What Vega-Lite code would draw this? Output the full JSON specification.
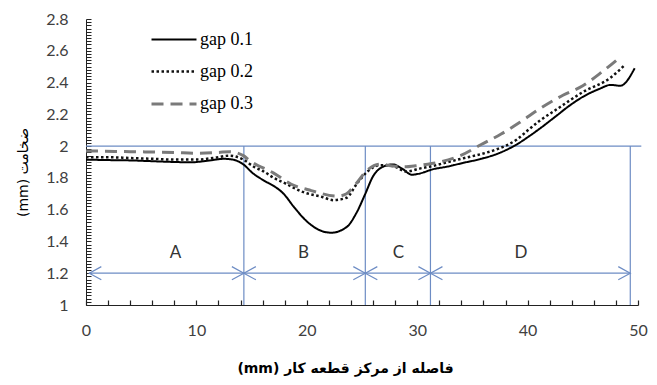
{
  "$schema": "https://vega.github.io/schema/vega-lite/v6.json",
  "width": 552,
  "height": 286,
  "autosize": {"type": "none"},
  "padding": {"left": 86, "top": 19, "right": 19, "bottom": 80},
  "config": {
    "view": {"stroke": null},
    "font": "Lato",
    "legend": {
      "orient": "none",
      "legendX": 75,
      "legendY": 8,
      "title": null,
      "symbolType": "M-2,0H2",
      "symbolSize": 506,
      "labelFont": "Liberation Serif",
      "labelFontSize": 18,
      "labelColor": "#000",
      "rowPadding": 10,
      "labelOffset": 13,
      "padding": 0
    }
  },
  "datasets": {
    "curves": [
      {"series": "gap 0.1", "x": 0, "y": 1.915},
      {"series": "gap 0.1", "x": 2, "y": 1.912},
      {"series": "gap 0.1", "x": 4, "y": 1.91},
      {"series": "gap 0.1", "x": 6, "y": 1.905},
      {"series": "gap 0.1", "x": 8, "y": 1.9},
      {"series": "gap 0.1", "x": 9.5, "y": 1.898},
      {"series": "gap 0.1", "x": 11, "y": 1.908},
      {"series": "gap 0.1", "x": 12.5, "y": 1.92},
      {"series": "gap 0.1", "x": 13.3, "y": 1.915},
      {"series": "gap 0.1", "x": 14.25, "y": 1.885},
      {"series": "gap 0.1", "x": 15.1, "y": 1.83},
      {"series": "gap 0.1", "x": 16.2, "y": 1.78},
      {"series": "gap 0.1", "x": 17.1, "y": 1.745},
      {"series": "gap 0.1", "x": 17.9, "y": 1.7},
      {"series": "gap 0.1", "x": 18.8, "y": 1.62},
      {"series": "gap 0.1", "x": 19.8, "y": 1.54},
      {"series": "gap 0.1", "x": 20.9, "y": 1.48},
      {"series": "gap 0.1", "x": 22.2, "y": 1.455},
      {"series": "gap 0.1", "x": 23.6, "y": 1.49},
      {"series": "gap 0.1", "x": 24.5, "y": 1.58},
      {"series": "gap 0.1", "x": 25.3, "y": 1.7},
      {"series": "gap 0.1", "x": 26.0, "y": 1.81},
      {"series": "gap 0.1", "x": 26.9, "y": 1.87},
      {"series": "gap 0.1", "x": 27.8, "y": 1.885},
      {"series": "gap 0.1", "x": 28.7, "y": 1.855},
      {"series": "gap 0.1", "x": 29.5, "y": 1.82},
      {"series": "gap 0.1", "x": 30.6, "y": 1.835},
      {"series": "gap 0.1", "x": 31.2, "y": 1.85},
      {"series": "gap 0.1", "x": 32.8, "y": 1.872},
      {"series": "gap 0.1", "x": 34.2, "y": 1.895},
      {"series": "gap 0.1", "x": 35.8, "y": 1.92},
      {"series": "gap 0.1", "x": 37.2, "y": 1.95},
      {"series": "gap 0.1", "x": 39.0, "y": 2.01},
      {"series": "gap 0.1", "x": 40.2, "y": 2.065},
      {"series": "gap 0.1", "x": 41.1, "y": 2.11},
      {"series": "gap 0.1", "x": 42.6, "y": 2.19},
      {"series": "gap 0.1", "x": 43.8, "y": 2.255},
      {"series": "gap 0.1", "x": 45.0, "y": 2.31},
      {"series": "gap 0.1", "x": 46.5, "y": 2.36},
      {"series": "gap 0.1", "x": 47.5, "y": 2.385},
      {"series": "gap 0.1", "x": 48.4, "y": 2.38},
      {"series": "gap 0.1", "x": 49.7, "y": 2.49},
      {"series": "gap 0.2", "x": 0, "y": 1.93},
      {"series": "gap 0.2", "x": 2, "y": 1.93},
      {"series": "gap 0.2", "x": 4, "y": 1.925},
      {"series": "gap 0.2", "x": 6, "y": 1.92},
      {"series": "gap 0.2", "x": 8, "y": 1.915},
      {"series": "gap 0.2", "x": 10, "y": 1.915},
      {"series": "gap 0.2", "x": 11.5, "y": 1.925},
      {"series": "gap 0.2", "x": 13, "y": 1.94},
      {"series": "gap 0.2", "x": 14.25, "y": 1.915},
      {"series": "gap 0.2", "x": 15.2, "y": 1.87},
      {"series": "gap 0.2", "x": 16.1, "y": 1.84},
      {"series": "gap 0.2", "x": 17, "y": 1.8},
      {"series": "gap 0.2", "x": 17.9, "y": 1.77},
      {"series": "gap 0.2", "x": 19.7, "y": 1.71},
      {"series": "gap 0.2", "x": 21.4, "y": 1.68},
      {"series": "gap 0.2", "x": 22.4, "y": 1.66},
      {"series": "gap 0.2", "x": 23.6, "y": 1.675},
      {"series": "gap 0.2", "x": 24.5, "y": 1.76},
      {"series": "gap 0.2", "x": 25.5, "y": 1.84},
      {"series": "gap 0.2", "x": 26.6, "y": 1.88},
      {"series": "gap 0.2", "x": 27.8, "y": 1.875},
      {"series": "gap 0.2", "x": 29.0, "y": 1.84},
      {"series": "gap 0.2", "x": 30.3, "y": 1.86},
      {"series": "gap 0.2", "x": 31.2, "y": 1.872},
      {"series": "gap 0.2", "x": 32.7, "y": 1.898},
      {"series": "gap 0.2", "x": 34.2, "y": 1.924},
      {"series": "gap 0.2", "x": 35.8, "y": 1.95},
      {"series": "gap 0.2", "x": 37.2, "y": 1.98},
      {"series": "gap 0.2", "x": 39.0, "y": 2.04},
      {"series": "gap 0.2", "x": 40.2, "y": 2.11},
      {"series": "gap 0.2", "x": 41.1, "y": 2.16},
      {"series": "gap 0.2", "x": 42.6, "y": 2.23},
      {"series": "gap 0.2", "x": 45.0, "y": 2.34},
      {"series": "gap 0.2", "x": 47.5, "y": 2.43},
      {"series": "gap 0.2", "x": 48.8, "y": 2.51},
      {"series": "gap 0.3", "x": 0, "y": 1.97},
      {"series": "gap 0.3", "x": 4, "y": 1.965},
      {"series": "gap 0.3", "x": 8, "y": 1.96},
      {"series": "gap 0.3", "x": 10, "y": 1.955},
      {"series": "gap 0.3", "x": 12, "y": 1.96},
      {"series": "gap 0.3", "x": 13, "y": 1.965},
      {"series": "gap 0.3", "x": 14.25, "y": 1.94},
      {"series": "gap 0.3", "x": 14.8, "y": 1.91},
      {"series": "gap 0.3", "x": 17, "y": 1.83},
      {"series": "gap 0.3", "x": 18.6, "y": 1.76},
      {"series": "gap 0.3", "x": 20.4, "y": 1.72},
      {"series": "gap 0.3", "x": 22.8, "y": 1.685},
      {"series": "gap 0.3", "x": 23.6, "y": 1.7},
      {"series": "gap 0.3", "x": 24.3, "y": 1.75},
      {"series": "gap 0.3", "x": 25.5, "y": 1.85},
      {"series": "gap 0.3", "x": 26.6, "y": 1.886},
      {"series": "gap 0.3", "x": 27.8, "y": 1.875},
      {"series": "gap 0.3", "x": 29.0, "y": 1.87},
      {"series": "gap 0.3", "x": 29.7, "y": 1.875},
      {"series": "gap 0.3", "x": 31.3, "y": 1.89},
      {"series": "gap 0.3", "x": 33.9, "y": 1.94},
      {"series": "gap 0.3", "x": 35.8, "y": 2.01},
      {"series": "gap 0.3", "x": 37.6, "y": 2.076},
      {"series": "gap 0.3", "x": 39.3, "y": 2.15},
      {"series": "gap 0.3", "x": 41.1, "y": 2.235},
      {"series": "gap 0.3", "x": 43.2, "y": 2.32},
      {"series": "gap 0.3", "x": 45.0, "y": 2.38},
      {"series": "gap 0.3", "x": 46.7, "y": 2.465},
      {"series": "gap 0.3", "x": 48.3, "y": 2.555}
    ],
    "bounds": [
      {"x": 14.3, "y": 1, "y2": 2},
      {"x": 25.3, "y": 1, "y2": 2},
      {"x": 31.2, "y": 1, "y2": 2},
      {"x": 49.3, "y": 1, "y2": 2}
    ],
    "hlines": [
      {"x": 0, "x2": 50.3, "y": 2},
      {"x": 0.3, "x2": 49.3, "y": 1.2}
    ],
    "arrows": [
      {"x": 0.3, "y": 1.2, "dir": "left"},
      {"x": 14.3, "y": 1.2, "dir": "right"},
      {"x": 14.3, "y": 1.2, "dir": "left"},
      {"x": 25.3, "y": 1.2, "dir": "right"},
      {"x": 25.3, "y": 1.2, "dir": "left"},
      {"x": 31.2, "y": 1.2, "dir": "right"},
      {"x": 31.2, "y": 1.2, "dir": "left"},
      {"x": 49.3, "y": 1.2, "dir": "right"}
    ],
    "labels": [
      {"x": 8.1, "y": 1.33, "label": "A"},
      {"x": 19.7, "y": 1.33, "label": "B"},
      {"x": 28.3, "y": 1.33, "label": "C"},
      {"x": 39.4, "y": 1.33, "label": "D"}
    ]
  },
  "encoding": {
    "x": {
      "field": "x",
      "type": "quantitative",
      "scale": {"domain": [0, 50], "nice": false, "zero": false},
      "axis": {
        "title": "(mm) فاصله از مرکز قطعه کار",
        "titleFont": "DejaVu Sans",
        "titleFontWeight": "bold",
        "titleFontSize": 14,
        "titleColor": "#000",
        "titleX": 259,
        "titleY": 63,
        "titleBaseline": "middle",
        "titleAlign": "center",
        "tickCount": 25,
        "labelExpr": "datum.value % 10 == 0 ? format(datum.value, 'd') : ''",
        "labelFlush": false,
        "labelOverlap": false,
        "labelFont": "Lato",
        "labelFontSize": 16,
        "labelColor": "#404040",
        "labelPadding": 17,
        "ticks": false,
        "tickSize": 0,
        "domainColor": "#222",
        "grid": true,
        "gridColor": "#222",
        "gridOpacity": 1,
        "gridWidth": 1.2,
        "gridDash": [0, 281, 5, 1000]
      }
    },
    "y": {
      "field": "y",
      "type": "quantitative",
      "scale": {"domain": [1, 2.8], "nice": false, "zero": false},
      "axis": {
        "title": "(mm) ضخامت",
        "titleFont": "DejaVu Sans",
        "titleFontWeight": "normal",
        "titleFontSize": 14,
        "titleColor": "#000",
        "titleX": -63,
        "titleY": 153,
        "titleBaseline": "middle",
        "titleAlign": "center",
        "tickCount": 90,
        "labelExpr": "abs(datum.value * 5 - round(datum.value * 5)) < 0.01 ? format(datum.value, '~g') : ''",
        "labelOverlap": false,
        "labelFlush": false,
        "labelFont": "Lato",
        "labelFontSize": 16,
        "labelColor": "#404040",
        "labelPadding": 18,
        "ticks": false,
        "tickSize": 0,
        "domainColor": "#222",
        "grid": true,
        "gridColor": "#222",
        "gridOpacity": 1,
        "gridWidth": 1,
        "gridDash": [5, 1000]
      }
    }
  },
  "layer": [
    {
      "data": {"name": "bounds"},
      "mark": {"type": "rule", "color": "#6d8cc4", "strokeWidth": 1.2},
      "encoding": {"y2": {"field": "y2"}}
    },
    {
      "data": {"name": "hlines"},
      "mark": {"type": "rule", "color": "#6d8cc4", "strokeWidth": 1.2, "clip": false},
      "encoding": {"x2": {"field": "x2"}}
    },
    {
      "data": {"name": "arrows"},
      "mark": {"type": "point", "filled": false, "stroke": "#6d8cc4", "strokeWidth": 1.2, "size": 576, "opacity": 1},
      "encoding": {
        "shape": {
          "field": "dir",
          "type": "nominal",
          "scale": {"domain": ["left", "right"], "range": ["M1,-0.55L0,0L1,0.55", "M-1,-0.55L0,0L-1,0.55"]},
          "legend": null
        }
      }
    },
    {
      "data": {"name": "labels"},
      "mark": {"type": "text", "font": "Lato", "fontSize": 17, "color": "#333"},
      "encoding": {"text": {"field": "label"}}
    },
    {
      "data": {"name": "curves"},
      "mark": {"type": "line", "interpolate": "monotone"},
      "encoding": {
        "stroke": {
          "field": "series",
          "type": "nominal",
          "scale": {"domain": ["gap 0.1", "gap 0.2", "gap 0.3"], "range": ["#000000", "#111111", "#7a7a7a"]}
        },
        "strokeDash": {
          "field": "series",
          "type": "nominal",
          "scale": {"domain": ["gap 0.1", "gap 0.2", "gap 0.3"], "range": [[1, 0], [2.5, 2.5], [12, 7]]}
        },
        "strokeWidth": {
          "field": "series",
          "type": "nominal",
          "scale": {"domain": ["gap 0.1", "gap 0.2", "gap 0.3"], "range": [2, 3, 3.5]}
        }
      }
    }
  ]
}
